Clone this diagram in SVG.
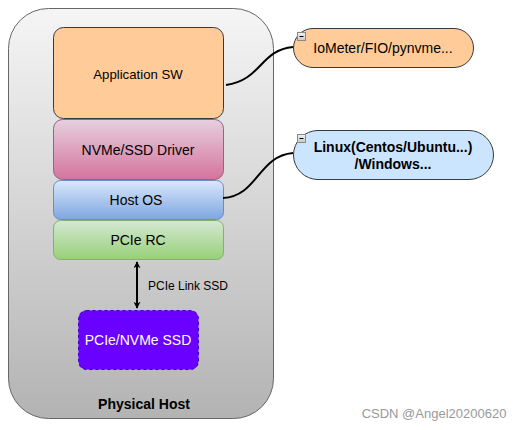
<svg xmlns="http://www.w3.org/2000/svg" width="521" height="430" viewBox="0 0 521 430">
<defs>
<linearGradient id="gHost" x1="0" y1="0" x2="0" y2="1"><stop offset="0" stop-color="#f5f5f5"/><stop offset="1" stop-color="#b3b3b3"/></linearGradient>
<linearGradient id="gDrv" x1="0" y1="0" x2="0" y2="1"><stop offset="0" stop-color="#e6d0de"/><stop offset="1" stop-color="#d5739d"/></linearGradient>
<linearGradient id="gOS" x1="0" y1="0" x2="0" y2="1"><stop offset="0" stop-color="#dae8fc"/><stop offset="1" stop-color="#7ea6e0"/></linearGradient>
<linearGradient id="gRC" x1="0" y1="0" x2="0" y2="1"><stop offset="0" stop-color="#d5e8d4"/><stop offset="1" stop-color="#97d077"/></linearGradient>
<linearGradient id="gMin" x1="0" y1="0" x2="0" y2="1"><stop offset="0" stop-color="#f2f2f2"/><stop offset="1" stop-color="#c8c8c8"/></linearGradient>
<marker id="ah" viewBox="0 0 10 10" refX="9" refY="5" markerWidth="7" markerHeight="7" orient="auto-start-reverse" markerUnits="userSpaceOnUse">
<path d="M0,0 L10,5 L0,10 L3,5 Z" fill="#000"/>
</marker>
</defs>
<style>
text{font-family:"Liberation Sans",Arial,sans-serif;font-size:14px;fill:#000;text-anchor:middle}
.b{font-weight:bold}
.conn{fill:none;stroke:#000;stroke-width:2}
.mini{fill:url(#gMin);stroke:#888;stroke-width:1}
</style>
<g id="physical-host">
<rect x="8.5" y="8.5" width="265" height="410" rx="40" fill="url(#gHost)" stroke="#666"/>
<text class="b" x="144" y="409">Physical Host</text>
</g>
<g id="app-sw">
<rect x="53.5" y="27.5" width="170" height="91" rx="10" fill="#ffcc99" stroke="#36393d"/>
<text x="138" y="79" style="font-size:13.2px">Application SW</text>
</g>
<g id="nvme-driver">
<rect x="53.5" y="119.5" width="170" height="60" rx="9" fill="url(#gDrv)" stroke="#996185"/>
<text x="138" y="155">NVMe/SSD Driver</text>
</g>
<g id="host-os">
<rect x="53.5" y="180.5" width="170" height="39" rx="7" fill="url(#gOS)" stroke="#6c8ebf"/>
<text x="136" y="205">Host OS</text>
</g>
<g id="pcie-rc">
<rect x="53.5" y="220.5" width="170" height="39" rx="7" fill="url(#gRC)" stroke="#82b366"/>
<text x="138" y="245">PCIe RC</text>
</g>
<g id="nvme-ssd">
<rect x="78.5" y="310.5" width="120" height="59" rx="8" fill="#6a00ff" stroke="#3700cc" stroke-dasharray="3 3"/>
<text x="138" y="345" style="fill:#fff">PCIe/NVMe SSD</text>
</g>
<g id="iometer">
<rect x="293.5" y="28.5" width="180" height="39" rx="19.5" fill="#ffcc99" stroke="#36393d"/>
<rect class="mini" x="297.5" y="32.5" width="8" height="8"/>
<line x1="299.5" y1="36.5" x2="303.5" y2="36.5" stroke="#000" stroke-width="1"/>
<text x="383" y="53">IoMeter/FIO/pynvme...</text>
</g>
<g id="linux">
<rect x="293.5" y="130.5" width="200" height="49" rx="24.5" fill="#cce5ff" stroke="#36393d"/>
<rect class="mini" x="297.5" y="134.5" width="8" height="8"/>
<line x1="299.5" y1="138.5" x2="303.5" y2="138.5" stroke="#000" stroke-width="1"/>
<text class="b" x="393" y="152">Linux(Centos/Ubuntu...)</text>
<text class="b" x="393" y="169">/Windows...</text>
</g>
<g id="connectors">
<path class="conn" d="M226,85 C262,80 260,50 293,47"/>
<path class="conn" d="M223,198 C258,196 258,156 293,153"/>
<line class="conn" x1="137" y1="262" x2="137" y2="308" marker-start="url(#ah)" marker-end="url(#ah)"/>
<text x="188" y="290" style="font-size:12px">PCIe Link SSD</text>
</g>
<text x="434" y="418" style="font-size:13px;fill:#999">CSDN @Angel20200620</text>
</svg>
